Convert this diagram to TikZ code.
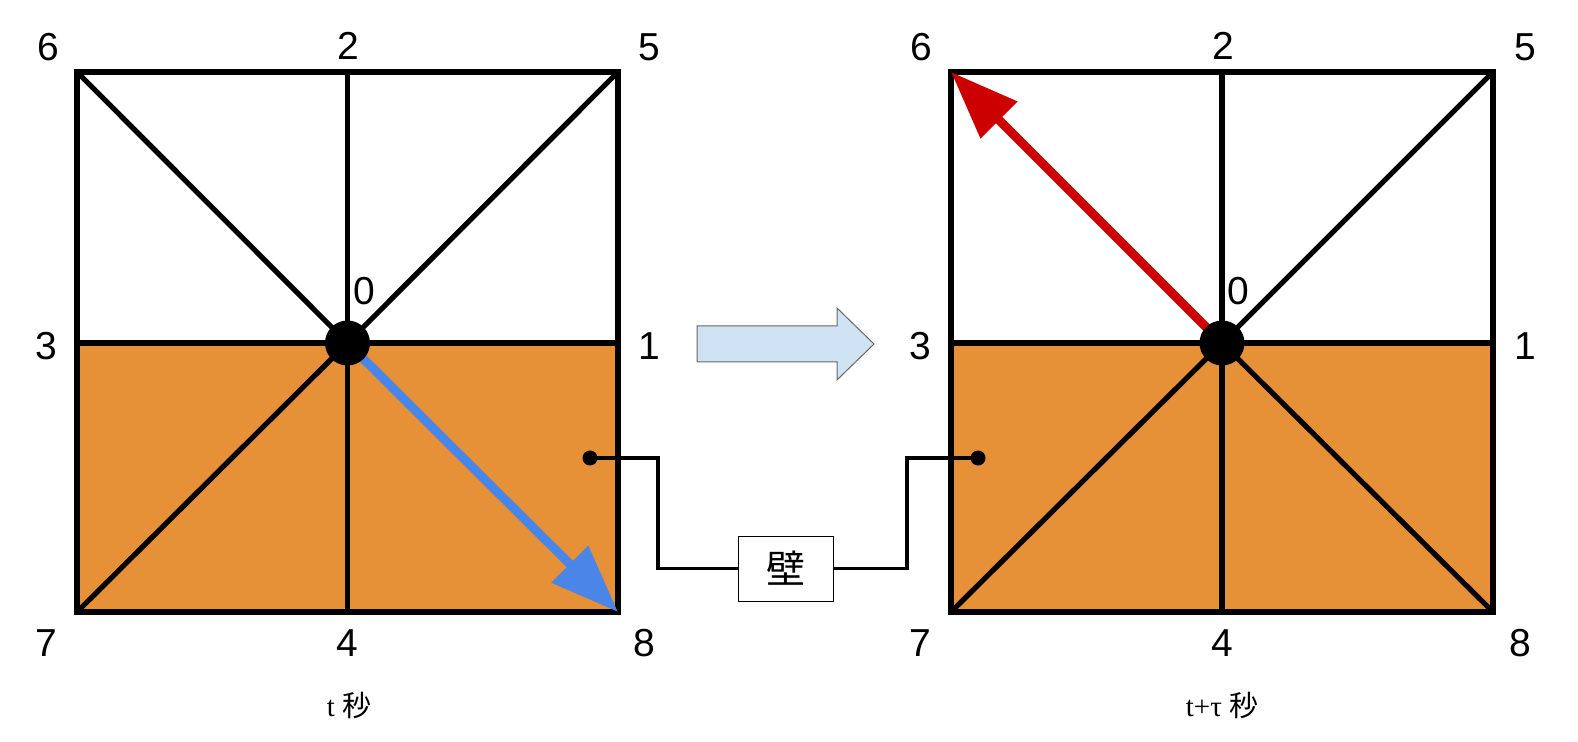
\documentclass[tikz,border=0pt]{standalone}
\usepackage{fontspec}
\setmainfont{Liberation Sans}
\newfontfamily\cjk{Noto Sans CJK JP}
\newfontfamily\serifgr{Liberation Serif}
\usetikzlibrary{arrows.meta}
\definecolor{cellorange}{HTML}{E69138}
\definecolor{movblue}{HTML}{4A86E8}
\definecolor{movred}{HTML}{CC0000}
\definecolor{pale}{HTML}{CFE2F3}
\definecolor{paleedge}{HTML}{666666}
\begin{document}
\begin{tikzpicture}[x=0.5pt,y=-0.5pt,
  num/.style={font=\fontsize{19.5}{20}\selectfont, inner sep=0pt},
  frame/.style={line width=2.9pt, line join=miter},
  gridline/.style={line width=2.6pt},
  centre/.style={circle, fill=black, minimum size=22.5pt, inner sep=0pt},
  wiredot/.style={circle, fill=black, minimum size=7.5pt, inner sep=0pt},
  wire/.style={line width=1.6pt, line join=miter},
  wallbox/.style={draw, line width=0.5pt, fill=white, minimum width=47.5pt, minimum height=32.5pt, inner sep=0pt, font=\cjk\fontsize{19.5}{20}\selectfont},
  movearrow/.style={line width=4.5pt, -{Triangle[length=34pt,width=25pt]}},
  caption/.style={font=\fontsize{14.5}{16}\selectfont, inner sep=0pt}]
\useasboundingbox (0,0) rectangle (1578,742);

% left square coordinates
\coordinate (L6) at (77,72);   \coordinate (L2) at (347.5,72);  \coordinate (L5) at (618,72);
\coordinate (L3) at (77,343);  \coordinate (L0) at (347.5,343); \coordinate (L1) at (618,343);
\coordinate (L7) at (77,612);  \coordinate (L4) at (347.5,612); \coordinate (L8) at (618,612);
% right square coordinates
\coordinate (R6) at (951,72);  \coordinate (R2) at (1222,72);   \coordinate (R5) at (1493,72);
\coordinate (R3) at (951,343); \coordinate (R0) at (1222,343);  \coordinate (R1) at (1493,343);
\coordinate (R7) at (951,612); \coordinate (R4) at (1222,612);  \coordinate (R8) at (1493,612);

% fills
\fill[cellorange] (L3) rectangle (L8);
\fill[cellorange] (R3) rectangle (R8);

% left grid
\draw[gridline] (L2) -- (L4);
\draw[gridline] (L6) -- (L0);
\draw[gridline] (L5) -- (L0);
\draw[gridline] (L7) -- (L0);
\draw[frame] (L3) -- (L1);
\draw[frame] (L6) rectangle (L8);
% right grid
\draw[gridline] (R2) -- (R4);
\draw[gridline] (R5) -- (R0);
\draw[gridline] (R7) -- (R0);
\draw[gridline] (R8) -- (R0);
\draw[frame] (R3) -- (R1);
\draw[frame] (R6) rectangle (R8);

% moving arrows
\draw[movearrow, movblue] (L0) -- (L8);
\draw[movearrow, movred] (R0) -- (R6);

% centre dots
\node[centre] (Ldot) at (L0) {};
\node[centre] (Rdot) at (R0) {};

% labels left
\node[num] (l6) at (48,47) {6};
\node[num] (l2) at (348,46) {2};
\node[num] (l5) at (649,47) {5};
\node[num] (l3) at (46,346) {3};
\node[num] (l1) at (649,346) {1};
\node[num] (l0) at (364,291) {0};
\node[num] (l7) at (46,643) {7};
\node[num] (l4) at (347,643) {4};
\node[num] (l8) at (644,643) {8};
% labels right
\node[num] (r6) at (921,47) {6};
\node[num] (r2) at (1223,46) {2};
\node[num] (r5) at (1525,47) {5};
\node[num] (r3) at (920,346) {3};
\node[num] (r1) at (1525,346) {1};
\node[num] (r0) at (1238,291) {0};
\node[num] (r7) at (920,643) {7};
\node[num] (r4) at (1222,643) {4};
\node[num] (r8) at (1520,643) {8};

% transition arrow
\draw[fill=pale, draw=paleedge, line width=0.5pt, line join=miter]
  (697,326) -- (837,326) -- (837,308) -- (874,344) -- (837,380) -- (837,362) -- (697,362) -- cycle;

% wall connector
\node[wallbox] (wall) at (785.5,568.5) {壁};
\node[wiredot] (ldot) at (590,458) {};
\node[wiredot] (rdot) at (978,458) {};
\coordinate (lbend) at (658,458);
\coordinate (rbend) at (907,458);
\draw[wire] (ldot.center) -- (lbend) |- (wall.west);
\draw[wire] (wall.east) -| (rbend) -- (rdot.center);

% captions
\node[caption] (capL) at (349,705) {\serifgr t\ \cjk 秒};
\node[caption] (capR) at (1222,705) {\serifgr t+τ\ \cjk 秒};
\end{tikzpicture}
\end{document}
